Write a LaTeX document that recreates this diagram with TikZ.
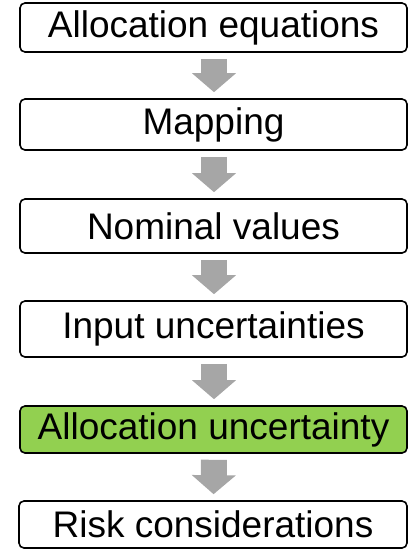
\documentclass[tikz,border=0pt]{standalone}
\usepackage{fontspec}
\setmainfont{Liberation Sans}
\usetikzlibrary{arrows.meta,calc}
\definecolor{arrowgray}{HTML}{A6A6A6}
\definecolor{stepgreen}{HTML}{92D050}
\tikzset{
  stagebox/.style={draw=black, line width=1.6pt, rounded corners=5pt, fill=white,
    minimum width=387pt, inner sep=0pt, font=\fontsize{37}{40}\selectfont, anchor=center},
  flowarrow/.style={draw=arrowgray, line width=26pt,
    -{Triangle[width=43pt,length=19pt,fill=arrowgray]},
    shorten <=6pt, shorten >=6pt},
}
\begin{document}
\begin{tikzpicture}[x=1pt,y=1pt]
  \useasboundingbox (0,0) rectangle (408,-550);
  \node[stagebox, minimum height=49pt] (eq) at (213.5,-27.5) {Allocation equations};
  \node[stagebox, minimum height=51pt] (map) at (213.5,-124.5) {Mapping};
  \node[stagebox, minimum height=54pt] (nom) at (213.5,-226) {Nominal values};
  \node[stagebox, minimum height=56pt] (inp) at (213.5,-329) {Input uncertainties};
  \node[stagebox, minimum height=47pt, fill=stepgreen] (alloc) at (213.5,-429.5) {Allocation uncertainty};
  \node[stagebox, minimum height=47pt, minimum width=388pt] (risk) at (213,-524.5) {Risk considerations};
  \foreach \a/\b in {eq/map, map/nom, nom/inp, inp/alloc, alloc/risk}
    \draw[flowarrow] ($(\a.south)+(0.5,0)$) -- ($(\b.north)+(0.5,0)$);
\end{tikzpicture}
\end{document}
